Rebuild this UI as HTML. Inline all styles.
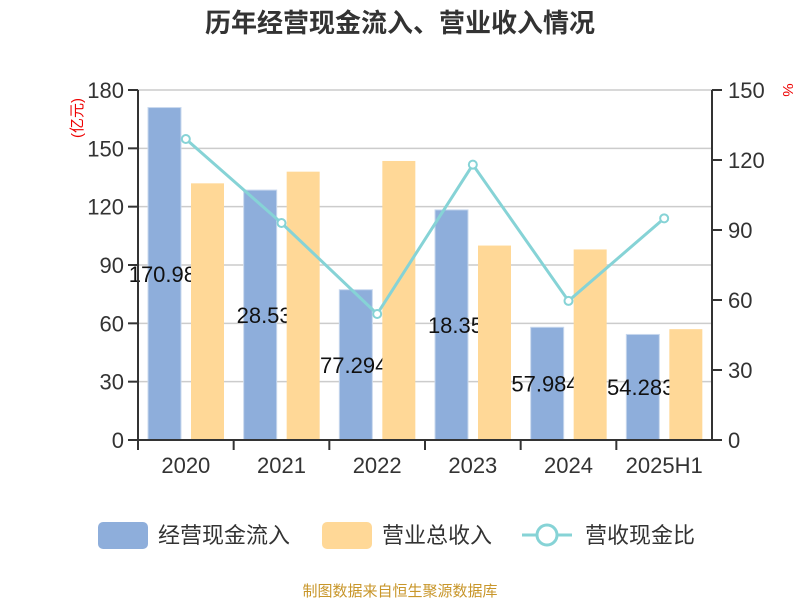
<!DOCTYPE html>
<html><head><meta charset="utf-8"><style>
body{margin:0;background:#fff}
text{font-family:"Liberation Sans","Noto Sans CJK SC",sans-serif}
</style></head><body>
<svg id="chart" width="800" height="600" xmlns="http://www.w3.org/2000/svg">
<text x="400" y="32" text-anchor="middle" font-size="26" font-weight="bold" fill="#333">历年经营现金流入、营业收入情况</text>
<g id="grid"></g><g id="blue"></g><g id="labels"></g><g id="orange"></g><g id="axes"></g><g id="line"></g>
<text transform="translate(82,118) rotate(-90)" text-anchor="middle" font-size="15" fill="#e00">(亿元)</text>
<text transform="translate(783,90) rotate(90)" text-anchor="middle" font-size="15" fill="#e00">%</text>
<g>
<rect x="98" y="522" width="50" height="27" rx="5" fill="#8eaedb"/>
<text x="158" y="543" font-size="22" fill="#333">经营现金流入</text>
<rect x="322" y="522" width="50" height="27" rx="5" fill="#ffd897"/>
<text x="382" y="543" font-size="22" fill="#333">营业总收入</text>
<line x1="522" y1="535" x2="572" y2="535" stroke="#86d3d6" stroke-width="3"/>
<circle cx="547" cy="535" r="10" fill="#fff" stroke="#86d3d6" stroke-width="3"/>
<text x="585" y="543" font-size="22" fill="#333">营收现金比</text>
</g>
<text x="400" y="596" text-anchor="middle" font-size="15" fill="#c8962a">制图数据来自恒生聚源数据库</text>
</svg>
<script>
const categories=["2020","2021","2022","2023","2024","2025H1"];
const cashInflow=[170.98,128.53,77.294,118.35,57.984,54.283];
const cashLabels=["170.98","28.53","77.294","18.35","57.984","54.283"];
const revenue=[132,138,143.5,100,98,57];
const ratio=[129,93,54,118,59.6,95];
const leftTicks=[0,30,60,90,120,150,180];
const rightTicks=[0,30,60,90,120,150];
const NS="http://www.w3.org/2000/svg";
const X0=138,X1=712,Y0=440,Y1=90;
const band=(X1-X0)/categories.length;
const yL=v=>Y0-(v/180)*(Y0-Y1);
const yR=v=>Y0-(v/150)*(Y0-Y1);
const xC=i=>X0+band*(i+0.5);
function mk(tag,attrs,parent,txt){const e=document.createElementNS(NS,tag);for(const k in attrs)e.setAttribute(k,attrs[k]);if(txt!==undefined)e.textContent=txt;document.getElementById(parent).appendChild(e);return e;}
leftTicks.forEach(t=>{
 const y=yL(t);
 if(t>0){const g=mk('line',{x1:X0,x2:X1,y1:y,y2:y,stroke:'#ccc','stroke-width':1.5},'grid');
 
 }
 const tk=mk('line',{x1:X0-10,x2:X0,y1:y,y2:y,stroke:'#333','stroke-width':2},'axes');
 
 
 const l=mk('text',{x:X0-14,y:y+8,'text-anchor':'end','font-size':22,fill:'#333'},'axes',t);
 
 
});
rightTicks.forEach(t=>{
 const y=yR(t);
 const tk=mk('line',{x1:X1,x2:X1+10,y1:y,y2:y,stroke:'#333','stroke-width':2},'axes');
 
 
 const l=mk('text',{x:X1+16,y:y+8,'font-size':22,fill:'#333'},'axes',t);
 
 
});
let a=mk('line',{x1:X0,x2:X0,y1:Y1,y2:Y0,stroke:'#333','stroke-width':2},'axes');


a=mk('line',{x1:X1,x2:X1,y1:Y1,y2:Y0,stroke:'#333','stroke-width':2},'axes');


a=mk('line',{x1:X0,x2:X1,y1:Y0,y2:Y0,stroke:'#333','stroke-width':2},'axes');


categories.forEach((c,i)=>{
 const x=X0+band*i;
 const tk=mk('line',{x1:x,x2:x,y1:Y0,y2:Y0+10,stroke:'#333','stroke-width':2},'axes');
 
 
 const l=mk('text',{x:xC(i),y:Y0+33,'text-anchor':'middle','font-size':22,fill:'#333'},'axes',c);
 
 
 const bx=x+10, ox=x+53, w=33;
 const b=mk('rect',{x:bx,y:yL(cashInflow[i]),width:w,height:Y0-yL(cashInflow[i]),fill:'#8eaedb',stroke:'#c8d8ee','stroke-width':1},'blue');
 
 
 const lb=mk('text',{x:ox+5,y:(yL(cashInflow[i])+Y0)/2+8,'text-anchor':'end','font-size':22,fill:'#111'},'labels',cashLabels[i]);
 
 
 const o=mk('rect',{x:ox,y:yL(revenue[i]),width:w,height:Y0-yL(revenue[i]),fill:'#ffd897'},'orange');
 
 
});
const pl=mk('polyline',{points:ratio.map((v,i)=>xC(i)+','+yR(v)).join(' '),fill:'none',stroke:'#86d3d6','stroke-width':3},'line');


ratio.forEach((v,i)=>{
 const p=mk('circle',{cx:xC(i),cy:yR(v),r:4,fill:'#fff',stroke:'#86d3d6','stroke-width':2},'line');
 
 
});
</script>
</body></html>
